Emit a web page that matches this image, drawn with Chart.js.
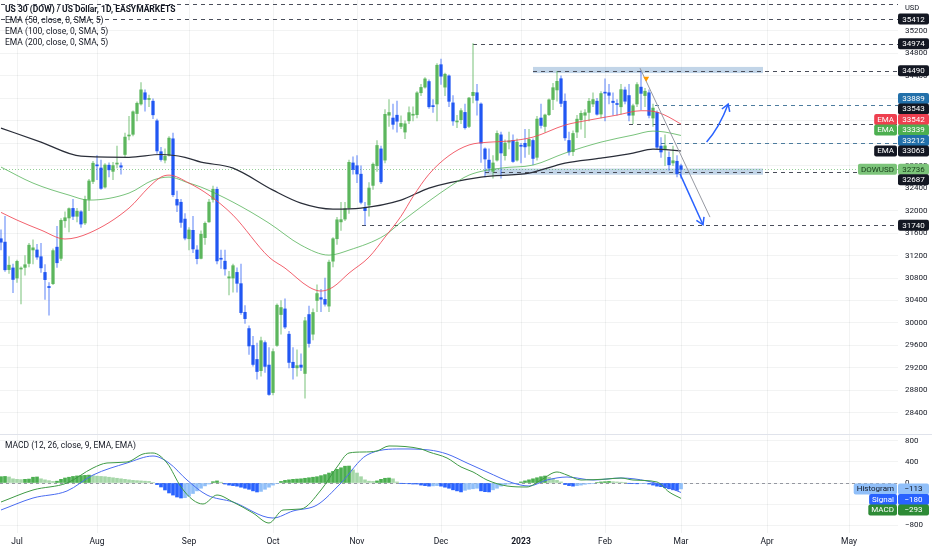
<!DOCTYPE html>
<html>
<head>
<meta charset="utf-8">
<script src="https://cdn.jsdelivr.net/npm/chart.js@4.4.0/dist/chart.umd.min.js"></script>
<style>
  html, body { margin: 0; padding: 0; background: #fff; overflow: hidden; }
  #wrap { position: relative; width: 932px; height: 550px; }
  canvas { position: absolute; left: 0; }
  #price { top: 0; }
  #macd { top: 433px; }
</style>
</head>
<body>
<div id="wrap">
  <canvas id="price" width="932" height="433"></canvas>
  <canvas id="macd" width="932" height="117"></canvas>
</div>
<script>
// daily bars, index 0 = 27 Jun 2022, index 170 = 1 Mar 2023
const opens = [
  31500, 31440, 30950, 30980, 30800, 30960, 30990, 31060, 31300, 31300,
  31180, 30900, 30650, 30700, 31350, 31150, 31820, 31870, 32040, 31900,
  31980, 31780, 32200, 32520, 32800, 32760, 32420, 32810, 32700, 32830,
  32800, 33000, 33330, 33360, 33730, 33900, 34100, 33980, 33950, 33600,
  33050, 32900, 32990, 33280, 32200, 32150, 31850, 31500, 31650, 31300,
  31150, 31520, 31800, 32200, 32380, 31150, 31100, 30800, 30800, 30900,
  30700, 30190, 29900, 29600, 29350, 29150, 29650, 29250, 28760, 29600,
  30150, 30250, 29800, 29300, 29200, 29250, 29100, 30150, 29800, 30400,
  30450, 30420, 30300, 31100, 31500, 31800, 31850, 32050, 32850, 32800,
  32650, 32050, 32100, 32450, 32800, 33100, 32900, 33700, 33650, 33700,
  33500, 33400, 33600, 33700, 33710, 34100, 34200, 34300, 33870, 33900,
  34600, 34200, 34400, 33920, 33580, 33620, 33750, 33500, 34050, 34100,
  33900, 33100, 32900, 32700, 32900, 33350, 32980, 33220, 33250, 32900,
  33150, 33200, 33150, 33250, 32950, 33650, 33500, 33710, 33980, 34150,
  34350, 33950, 33250, 33050, 33400, 33620, 33700, 33750, 33900, 33950,
  33720, 34100, 34100, 33950, 33900, 33850, 34150, 34050, 33700, 33900,
  34200, 34050, 34100, 33650, 33750, 33150, 33100, 32950, 32850, 32880,
  32800
];
const highs = [
  31660, 31900, 31180, 31050, 31120, 31000, 31200, 31420, 31480, 31400,
  31420, 31040, 30720, 31320, 31720, 31860, 31980, 32050, 32200, 32040,
  32000, 32260, 32560, 32880, 32980, 32900, 32840, 32850, 32860, 33150,
  32850, 33380, 33680, 33780, 33940, 34280, 34150, 34060, 33990, 33630,
  33130, 33100, 33320, 33380, 32350, 32200, 31950, 31700, 31900, 31380,
  31640, 31800, 32200, 32440, 32420, 31300, 31300, 30920, 31050, 30980,
  31050, 30310, 29950, 29760, 29640, 29750, 29680, 29560, 29540, 30340,
  30400, 30430, 29850, 29560, 29520, 29450, 30100, 30300, 30250, 30680,
  30600, 30800, 31120, 31520, 31880, 32150, 32150, 32900, 32960, 32980,
  32800, 32150, 32500, 32850, 33250, 33150, 33800, 33980, 33900, 33950,
  33690, 33600, 33850, 33850, 34120, 34250, 34370, 34330, 33980, 34620,
  34700, 34450, 34420, 34050, 33700, 33820, 33900, 34020, 34974, 34250,
  33920, 33120, 33100, 32980, 33420, 33400, 33260, 33400, 33350, 33280,
  33200, 33450, 33450, 33280, 33680, 33900, 33720, 33990, 34270, 34480,
  34400, 34080, 33400, 33420, 33700, 33780, 33800, 34000, 34100, 34000,
  34120, 34350, 34250, 34100, 33980, 34250, 34200, 34250, 33900, 34280,
  34490, 34180, 34150, 33900, 33780, 33300, 33350, 33050, 33150, 32980,
  32830
];
const lows = [
  31300, 30920, 30880, 30540, 30720, 30340, 30850, 31000, 31050, 31130,
  30900, 30420, 30140, 30680, 30990, 31110, 31700, 31620, 31840, 31800,
  31700, 31750, 32000, 32480, 32550, 32380, 32400, 32600, 32550, 32760,
  32650, 32950, 33260, 33330, 33600, 33880, 33770, 33850, 33640, 33020,
  32880, 32850, 32970, 32250, 31980, 31700, 31480, 31300, 31250, 31050,
  31140, 31400, 31790, 32150, 31050, 30970, 30850, 30500, 30550, 30550,
  30150, 29990, 29440, 29230, 29000, 29050, 29120, 28710, 28720, 29580,
  29800, 29900, 29200, 29000, 29050, 29150, 28660, 29570, 29700, 30200,
  30200, 30300, 30200, 31000, 31400, 31650, 31820, 31950, 32650, 32500,
  32120, 31740, 31900, 32380, 32700, 32480, 32850, 33500, 33450, 33400,
  33460, 33280, 33550, 33600, 33650, 34050, 34180, 33820, 33750, 33600,
  34250, 34050, 33850, 33520, 33480, 33550, 33450, 33480, 33920, 33700,
  32860, 32600, 32700, 32580, 32880, 32580, 32900, 33100, 32860, 32880,
  32850, 32950, 33000, 32820, 32900, 33470, 33400, 33690, 33800, 33950,
  33850, 33250, 32990, 32980, 33300, 33450, 33300, 33600, 33850, 33700,
  33650, 33600, 33900, 33700, 33700, 33720, 33900, 33600, 33550, 33850,
  33800, 33850, 33650, 33500, 33100, 32950, 32800, 32720, 32800, 32600,
  32580
];
const closes = [
  31438, 30947, 31029, 30775, 31097, 30968, 31037, 31385, 31338, 31173,
  30981, 30772, 30630, 31288, 31072, 31827, 31874, 32036, 31899, 31990,
  31762, 32198, 32529, 32845, 32798, 32397, 32813, 32727, 32803, 32833,
  32775, 33310, 33337, 33761, 33913, 34152, 33981, 33999, 33707, 33064,
  32910, 32970, 33292, 32283, 32099, 31791, 31510, 31656, 31318, 31145,
  31581, 31775, 32152, 32381, 31105, 31135, 30962, 30822, 31020, 30706,
  30184, 30077, 29590, 29261, 29135, 29684, 29226, 28726, 29490, 30316,
  30274, 29927, 29297, 29203, 29240, 29211, 30039, 29635, 30186, 30524,
  30424, 30334, 31083, 31500, 31837, 31840, 32034, 32861, 32733, 32653,
  32148, 32001, 32403, 32827, 33161, 32514, 33716, 33748, 33537, 33593,
  33554, 33547, 33746, 33700, 34098, 34195, 34347, 33850, 33853, 34590,
  34395, 34430, 33947, 33597, 33598, 33781, 33477, 34006, 34108, 33966,
  33203, 32920, 32757, 32850, 33376, 33027, 33204, 33241, 32876, 33221,
  33147, 33136, 33270, 32930, 33631, 33518, 33704, 33974, 34190, 34303,
  33910, 33297, 33045, 33375, 33630, 33734, 33744, 33949, 33978, 33717,
  34086, 34093, 34054, 33926, 33891, 34156, 33949, 33699, 33869, 34246,
  34089, 34128, 33697, 33827, 33130, 33045, 33154, 32817, 32889, 32657,
  32736
];

// moving averages as [bar index, value]
const ema50 = [
  [0, 31969], [4, 31832], [10, 31654], [16, 31495], [22, 31600], [32, 32046],
  [37, 32420], [40, 32598], [42, 32633], [47, 32491], [52, 32277], [58, 31920],
  [67, 31172], [71, 30977], [77, 30639], [80, 30568], [83, 30639], [87, 30888],
  [92, 31172], [96, 31529], [100, 31900], [103, 32250], [107, 32650], [112, 32980],
  [117, 33170], [122, 33220], [127, 33240], [133, 33310], [141, 33524], [147, 33613],
  [154, 33702], [160, 33780], [163, 33770], [166, 33700], [170, 33542]
];
const ema100 = [
  [0, 32776], [8, 32491], [17, 32277], [22, 32188], [32, 32313], [38, 32544],
  [42, 32598], [47, 32491], [50, 32420], [58, 32152], [67, 31778], [75, 31386],
  [82, 31208], [87, 31297], [96, 31564], [100, 31796], [103, 31959], [112, 32420],
  [117, 32633], [125, 32758], [133, 32812], [141, 33025], [150, 33221], [158, 33346],
  [163, 33417], [166, 33400], [170, 33339]
];
const ema200 = [
  [0, 33471], [10, 33220], [20, 32970], [32, 32950], [40, 33000], [46, 32950],
  [50, 32865], [58, 32758], [68, 32366], [75, 32135], [83, 32028], [90, 32046],
  [100, 32188], [107, 32402], [120, 32598], [132, 32669], [141, 32847], [150, 32936],
  [158, 33025], [163, 33096], [170, 33063]
];

// MACD (12, 26, 9)
const macdLine = [
  [0, -362], [8, -133], [16.5, 0], [23, 286], [26.5, 381], [31.5, 400], [35.5, 552],
  [38, 571], [41.5, 381], [45, -76], [48, -324], [50.5, -400], [54, -229], [58, -362],
  [63, -572], [67, -762], [70.5, -514], [75, -495], [80, -133], [84, 305], [87, 571],
  [90.5, 590], [94, 610], [97, 705], [105, 648], [107, 590], [111.5, 476], [115, 305],
  [118, 210], [121.5, 57], [126.5, -57], [131.5, -76], [135, 57], [139, 210],
  [141.5, 152], [145, 57], [151.5, 76], [155, 95], [158, 57], [164, 19], [167, -171],
  [170, -293]
];
const signalLine = [
  [0, -514], [8, -286], [16.5, -152], [23, 152], [31.5, 381], [38, 514], [42, 381],
  [46.5, 57], [51.5, -229], [58, -362], [68, -667], [73, -533], [79, -419], [85, 0],
  [91.5, 533], [100, 648], [107, 629], [111.5, 552], [116.5, 381], [121.5, 210],
  [128, 0], [132, -57], [136.5, 57], [141.5, 114], [148, 57], [155, 95], [161.5, 38],
  [166.5, -76], [170, -180]
];
const histogram = [
  120, 125, 115, 80, 70, 65, 70, 75, 110, 115,
  80, 60, 45, 30, 35, 70, 95, 110, 125, 135,
  140, 145, 150, 140, 130, 125, 120, 110, 100, 90,
  80, 70, 60, 50, 45, 40, 35, 30, 10, -30,
  -76, -133, -190, -230, -267, -286, -280, -250, -200, -150,
  -100, -55, -20, 25, 40, 15, -20, -40, -50, -60,
  -80, -100, -120, -150, -171, -160, -120, -80, -40, -10,
  30, 50, 60, 70, 75, 80, 90, 100, 110, 120,
  140, 160, 190, 220, 260, 290, 320, 323, 250, 190,
  120, 60, 35, 30, 40, 70, 90, 95, 80, 20,
  -5, -10, -15, -20, -20, -40, -50, -60, -55, -50,
  -60, -80, -100, -130, -150, -170, -140, -120, -110, -100,
  -150, -165, -170, -130, -100, -60, -30, -20, -15, -10,
  20, 40, 60, 80, 100, 120, 133, 110, 80, 50,
  20, -30, -50, -60, -50, -40, -25, -15, -10, 10,
  20, 25, 30, 25, 20, 15, 10, -5, -10, -15,
  -10, -5, -20, -40, -60, -70, -90, -110, -130, -140,
  -113
];

// time axis
const monthTicks = [4, 24, 47, 68, 89, 110, 130, 151, 170, 191.5, 212];
const monthLabels = ['Jul', 'Aug', 'Sep', 'Oct', 'Nov', 'Dec', '2023', 'Feb', 'Mar', 'Apr', 'May'];
const priceTicks = [28400, 28800, 29200, 29600, 30000, 30400, 30800, 31200, 31600, 32000,
  32400, 32800, 33200, 33600, 34000, 34400, 34800, 35200];
const macdTicks = [-800, -400, 0, 400, 800];

// drawn levels: price, first bar
const levelValues = [35680, 35412, 34974, 34490, 33889, 33543, 33212, 32687, 31740];
const levelStarts = [0, 0, 118, 133, 163.5, 157, 165, 121, 90.25];
const tealLevels = [33889, 33212];
const zones = [[34450, 34560, 133, 190.5], [32640, 32750, 121, 190.5]];
const trendLine = [[159.75, 34539], [177.25, 31885]];
const arrowDown = [[169.75, 32655], [175.5, 31749]];
const arrowUp = [[176.4, 33221], [179.6, 33480], [181.8, 33898]];

const FONT = 'Roboto, "Noto Sans", sans-serif';
const TEXT = '#131722';
const GRID = 'rgba(42,46,57,0.06)';
const UP = '#5cb65d', DOWN = '#2157f3';
const last = closes.length - 1;

function tag(ctx, text, xr, yc, bg, fg, minW) {
  ctx.font = '8px ' + FONT;
  const w = Math.max(minW || 0, ctx.measureText(text).width + 6);
  ctx.fillStyle = bg;
  ctx.beginPath();
  ctx.roundRect(xr - w, yc - 5.5, w, 11, 2);
  ctx.fill();
  ctx.fillStyle = fg;
  ctx.textAlign = 'center';
  ctx.textBaseline = 'middle';
  ctx.fillText(text, xr - w / 2, yc + 0.5);
}

// keep axis tags apart, the anchor tag stays where its value is
function spread(items, anchor, h) {
  items.sort((a, b) => b.value - a.value);
  const k = items.indexOf(anchor);
  for (let j = k - 1; j >= 0; j--) items[j].y = Math.min(items[j].y, items[j + 1].y - h);
  for (let j = k + 1; j < items.length; j++) items[j].y = Math.max(items[j].y, items[j - 1].y + h);
  return items;
}

function arrowHead(ctx, fx, fy, tx, ty, len) {
  const a = Math.atan2(ty - fy, tx - fx);
  ctx.beginPath();
  ctx.moveTo(tx - len * Math.cos(a - 0.55), ty - len * Math.sin(a - 0.55));
  ctx.lineTo(tx, ty);
  ctx.lineTo(tx - len * Math.cos(a + 0.55), ty - len * Math.sin(a + 0.55));
  ctx.stroke();
}

// no label padding: the plot has to fill the canvas edge to edge
function noPad(s) {
  s.paddingTop = 0; s.paddingBottom = 0; s.paddingLeft = 0; s.paddingRight = 0;
}

const timeAxis = (showLabels) => ({
  type: 'linear',
  min: -0.25,
  max: 224.25,
  offset: false,
  afterBuildTicks: s => { s.ticks = monthTicks.map(v => ({ value: v })); },
  afterFit: s => { s.height = showLabels ? 17 : 0; noPad(s); },
  grid: { color: GRID, drawTicks: false, offset: false },
  border: { display: false },
  ticks: {
    display: showLabels,
    autoSkip: false,
    maxRotation: 0,
    padding: 4,
    color: TEXT,
    font: c => ({ family: FONT, size: 8.5, weight: c.tick && c.tick.value === 130 ? '700' : '400' }),
    callback: v => monthLabels[monthTicks.indexOf(v)] || ''
  }
});

const valueAxis = (min, max, ticks) => ({
  position: 'right',
  min: min,
  max: max,
  afterBuildTicks: s => { s.ticks = ticks.map(v => ({ value: v })); },
  afterFit: s => { s.width = 34; noPad(s); },
  grid: { color: GRID, drawTicks: false },
  border: { display: false },
  ticks: { padding: 7, color: TEXT, font: { family: FONT, size: 8 }, callback: v => String(v).replace('-', '\u2212') }
});

const priceDrawings = {
  id: 'priceDrawings',
  beforeDatasetsDraw(chart) {
    const { ctx, chartArea: a, scales: { x, y } } = chart;
    ctx.save();
    ctx.beginPath();
    ctx.rect(a.left, a.top, a.right - a.left, a.bottom - a.top);
    ctx.clip();
    zones.forEach(([lo, hi, from, to]) => {
      const x0 = x.getPixelForValue(from), x1 = x.getPixelForValue(to);
      const y0 = y.getPixelForValue(hi), y1 = y.getPixelForValue(lo);
      ctx.fillStyle = 'rgba(110,155,200,0.42)';
      ctx.fillRect(x0, y0, x1 - x0, y1 - y0);
    });
    ctx.lineWidth = 1;
    ctx.setLineDash([1, 2]);
    ctx.strokeStyle = 'rgba(76,175,80,0.6)';
    const yc = Math.round(y.getPixelForValue(closes[last])) + 0.5;
    ctx.beginPath(); ctx.moveTo(a.left, yc); ctx.lineTo(a.right, yc); ctx.stroke();
    ctx.setLineDash([4, 4]);
    levelValues.forEach((v, k) => {
      const yy = Math.round(y.getPixelForValue(v)) + 0.5;
      ctx.strokeStyle = tealLevels.includes(v) ? '#4d7c9e' : '#4a4e5a';
      ctx.beginPath();
      ctx.moveTo(x.getPixelForValue(levelStarts[k]), yy);
      ctx.lineTo(a.right, yy);
      ctx.stroke();
    });
    ctx.restore();
  },
  afterDatasetsDraw(chart) {
    const { ctx, scales: { x, y } } = chart;
    const P = ([i, v]) => [x.getPixelForValue(i), y.getPixelForValue(v)];
    ctx.save();
    ctx.lineWidth = 1;
    ctx.strokeStyle = '#9598a1';
    let [p0, p1] = trendLine.map(P);
    ctx.beginPath(); ctx.moveTo(p0[0], p0[1]); ctx.lineTo(p1[0], p1[1]); ctx.stroke();
    ctx.fillStyle = '#ff9800';
    const m = P([161.3, 34330]);
    ctx.beginPath(); ctx.moveTo(m[0] - 3, m[1] - 3); ctx.lineTo(m[0] + 3, m[1] - 3); ctx.lineTo(m[0], m[1] + 2); ctx.fill();
    ctx.strokeStyle = '#2962ff';
    ctx.lineWidth = 1.5;
    [p0, p1] = arrowDown.map(P);
    ctx.beginPath(); ctx.moveTo(p0[0], p0[1]); ctx.lineTo(p1[0], p1[1]); ctx.stroke();
    arrowHead(ctx, p0[0], p0[1], p1[0], p1[1], 8);
    const [q0, qc, q1] = arrowUp.map(P);
    ctx.beginPath(); ctx.moveTo(q0[0], q0[1]); ctx.quadraticCurveTo(qc[0], qc[1], q1[0], q1[1]); ctx.stroke();
    arrowHead(ctx, qc[0], qc[1], q1[0], q1[1], 8);
    ctx.restore();
  },
  afterDraw(chart) {
    const { ctx, chartArea: a, scales: { y } } = chart;
    ctx.save();
    ctx.fillStyle = TEXT;
    ctx.textAlign = 'left';
    ctx.textBaseline = 'middle';
    ctx.font = '700 8.5px ' + FONT;
    ctx.fillText('US 30 (DOW) / US Dollar, 1D, EASYMARKETS', 5, 10);
    ctx.font = '8.5px ' + FONT;
    ctx.fillText('EMA (50, close, 0, SMA, 5)', 5, 21);
    ctx.fillText('EMA (100, close, 0, SMA, 5)', 5, 32);
    ctx.fillText('EMA (200, close, 0, SMA, 5)', 5, 43);
    ctx.font = '7.5px ' + FONT;
    ctx.fillText('USD', 905, 8);

    const cur = { value: closes[last], bg: '#7cc47a', fg: '#173d19', name: 'DOWUSD' };
    const items = [cur];
    levelValues.slice(1).forEach(v => items.push({
      value: v, bg: tealLevels.includes(v) ? '#2270aa' : TEXT, fg: '#fff'
    }));
    items.push({ value: ema50[ema50.length - 1][1], bg: '#ee3f4f', fg: '#fff', name: 'EMA' });
    items.push({ value: ema100[ema100.length - 1][1], bg: '#4caf50', fg: '#fff', name: 'EMA' });
    items.push({ value: ema200[ema200.length - 1][1], bg: TEXT, fg: '#fff', name: 'EMA' });
    items.forEach(it => { it.y = y.getPixelForValue(it.value); });
    spread(items, cur, 10.5).forEach(it => {
      tag(ctx, String(it.value), a.right + 31, it.y, it.bg, it.fg, 31);
      if (it.name) tag(ctx, it.name, a.right - 1, it.y, it.bg, it.fg, 0);
    });
    ctx.restore();
  }
};

const macdDrawings = {
  id: 'macdDrawings',
  beforeDatasetsDraw(chart) {
    const { ctx, chartArea: a, scales: { y } } = chart;
    ctx.save();
    ctx.strokeStyle = '#9598a1';
    ctx.lineWidth = 1;
    ctx.setLineDash([3, 3]);
    const y0 = Math.round(y.getPixelForValue(0)) + 0.5;
    ctx.beginPath(); ctx.moveTo(a.left, y0); ctx.lineTo(a.right, y0); ctx.stroke();
    ctx.restore();
  },
  afterDraw(chart) {
    const { ctx, chartArea: a, scales: { y } } = chart;
    ctx.save();
    ctx.strokeStyle = '#e0e3eb';
    ctx.lineWidth = 1;
    ctx.beginPath(); ctx.moveTo(0, 1.5); ctx.lineTo(932, 1.5); ctx.stroke();
    ctx.fillStyle = TEXT;
    ctx.font = '8.5px ' + FONT;
    ctx.textAlign = 'left';
    ctx.textBaseline = 'middle';
    ctx.fillText('MACD (12, 26, close, 9, EMA, EMA)', 5, 13);
    const h = { value: histogram[last], name: 'Histogram', bg: '#90bff9', fg: TEXT };
    const items = [
      h,
      { value: signalLine[signalLine.length - 1][1], name: 'Signal', bg: '#2962ff', fg: '#fff' },
      { value: macdLine[macdLine.length - 1][1], name: 'MACD', bg: '#2e8b36', fg: '#fff' }
    ];
    items.forEach(it => { it.y = y.getPixelForValue(it.value); });
    spread(items, h, 10.5).forEach(it => {
      tag(ctx, String(it.value).replace('-', '\u2212'), a.right + 31, it.y, it.bg, it.fg, 31);
      tag(ctx, it.name, a.right - 1, it.y, it.bg, it.fg, 0);
    });
    ctx.restore();
  }
};

new Chart(document.getElementById('price'), {
  type: 'bar',
  data: {
    datasets: [
      {
        label: 'wicks',
        data: closes.map((c, i) => ({ x: i, y: [lows[i], highs[i]] })),
        backgroundColor: c => closes[c.dataIndex] >= opens[c.dataIndex] ? 'rgba(92,182,93,0.5)' : 'rgba(33,87,243,0.45)',
        barThickness: 1,
        grouped: false,
        order: 3
      },
      {
        label: 'bodies',
        data: closes.map((c, i) => ({ x: i, y: [opens[i], c] })),
        backgroundColor: c => closes[c.dataIndex] >= opens[c.dataIndex] ? UP : DOWN,
        barThickness: 2.6,
        minBarLength: 1,
        grouped: false,
        order: 2
      },
      {
        type: 'line', label: 'EMA 50',
        data: ema50.map(([x, y]) => ({ x, y })),
        borderColor: 'rgba(240,70,85,0.85)', borderWidth: 1,
        pointRadius: 0, cubicInterpolationMode: 'monotone', order: 1
      },
      {
        type: 'line', label: 'EMA 100',
        data: ema100.map(([x, y]) => ({ x, y })),
        borderColor: 'rgba(76,175,80,0.75)', borderWidth: 1,
        pointRadius: 0, cubicInterpolationMode: 'monotone', order: 1
      },
      {
        type: 'line', label: 'EMA 200',
        data: ema200.map(([x, y]) => ({ x, y })),
        borderColor: '#2a2e39', borderWidth: 1.2,
        pointRadius: 0, cubicInterpolationMode: 'monotone', order: 1
      }
    ]
  },
  options: {
    responsive: false,
    animation: false,
    layout: { padding: 0 },
    plugins: { legend: { display: false }, tooltip: { enabled: false } },
    scales: {
      x: timeAxis(false),
      y: valueAxis(28040, 35752, priceTicks)
    }
  },
  plugins: [priceDrawings]
});

new Chart(document.getElementById('macd'), {
  type: 'bar',
  data: {
    datasets: [
      {
        label: 'Histogram',
        data: histogram.map((v, i) => ({ x: i, y: v })),
        backgroundColor: c => {
          const i = c.dataIndex, v = histogram[i], p = i > 0 ? histogram[i - 1] : v;
          if (v >= 0) return v >= p ? '#4caf50' : '#a5d6a7';
          return v <= p ? '#2962ff' : '#90bff9';
        },
        barThickness: 3,
        order: 2
      },
      {
        type: 'line', label: 'MACD',
        data: macdLine.map(([x, y]) => ({ x, y })),
        borderColor: '#3f9a45', borderWidth: 1,
        pointRadius: 0, cubicInterpolationMode: 'monotone', order: 1
      },
      {
        type: 'line', label: 'Signal',
        data: signalLine.map(([x, y]) => ({ x, y })),
        borderColor: '#4a6cf0', borderWidth: 1,
        pointRadius: 0, cubicInterpolationMode: 'monotone', order: 1
      }
    ]
  },
  options: {
    responsive: false,
    animation: false,
    layout: { padding: 0 },
    plugins: { legend: { display: false }, tooltip: { enabled: false } },
    scales: {
      x: timeAxis(true),
      y: valueAxis(-952, 952, macdTicks)
    }
  },
  plugins: [macdDrawings]
});
</script>
</body>
</html>
